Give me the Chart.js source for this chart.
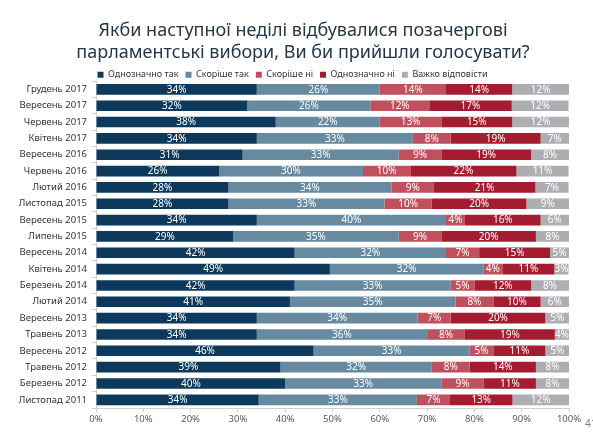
<!DOCTYPE html>
<html>
<head>
<meta charset="utf-8">
<script src="https://cdn.jsdelivr.net/npm/chart.js@4"></script>
<style>
  html, body { margin: 0; padding: 0; background: #fff; }
  #wrap { width: 593px; height: 438px; position: relative; }
</style>
</head>
<body>
<div id="wrap"><canvas id="chart" width="593" height="438"></canvas></div>
<script>
const categories = [
    'Грудень 2017', 'Вересень 2017', 'Червень 2017', 'Квітень 2017',
    'Вересень 2016', 'Червень 2016', 'Лютий 2016', 'Листопад 2015',
    'Вересень 2015', 'Липень 2015', 'Вересень 2014', 'Квітень 2014',
    'Березень 2014', 'Лютий 2014', 'Вересень 2013', 'Травень 2013',
    'Вересень 2012', 'Травень 2012', 'Березень 2012', 'Листопад 2011'
];
// shares in % (labels are the rounded values)
const definitelyYes = [34, 32, 38, 34, 31, 26, 28, 28, 34, 29, 42, 49.45, 42, 41, 34, 34, 46, 39, 40, 34.4];
const ratherYes     = [26, 26, 22, 33, 33, 30.45, 34.45, 33, 40, 35, 32, 32.45, 33, 35, 34, 36, 33, 32, 33, 33.45];
const ratherNo      = [14, 12.45, 13,  8,  9, 10,  9, 10,  4,  9,  7,  4,  5,  8,  7,  8,  5,  8,  9,  7];
const definitelyNo  = [14, 17.45, 15, 19, 19, 22.45, 21.45, 20, 16, 20, 15, 11, 12, 10, 20, 19, 11, 14, 11, 13.2];
const hardToSay     = [12, 12, 12,  7,  8, 11,  7,  9,  6,  8,  5,  3,  8,  6,  5,  4,  5,  8,  8, 12];
const xTicks = [0, 10, 20, 30, 40, 50, 60, 70, 80, 90, 100];

const FONT = '"Noto Sans", "Open Sans", sans-serif';

// white percentage labels in the middle of each segment, plus small layout tweaks
const segmentLabels = {
    id: 'segmentLabels',
    afterInit(chart) {
        // the legend in the original sits tight above the bars
        const lg = chart.legend;
        const fit = lg.fit.bind(lg);
        lg.fit = function () { fit(); this.height -= 8; };
    },
    afterLayout(chart) {
        // title is centred a bit right of the canvas middle
        chart.titleBlock.left = 37;
        chart.legend.left += 8;
        chart.legend.right += 8;
    },
    afterDatasetsDraw(chart) {
        const ctx = chart.ctx;
        ctx.save();
        ctx.font = '10px ' + FONT;
        ctx.fillStyle = '#ffffff';
        ctx.textAlign = 'center';
        ctx.textBaseline = 'middle';
        chart.data.datasets.forEach((ds, i) => {
            const meta = chart.getDatasetMeta(i);
            meta.data.forEach((bar, j) => {
                const v = ds.data[j];
                const x = (bar.base + Math.min(bar.x, chart.chartArea.right)) / 2;
                ctx.fillText(Math.round(v) + '%', x, bar.y + 0.5);
            });
        });
        // page number in the corner
        ctx.fillStyle = '#7f7f7f';
        ctx.textAlign = 'left';
        ctx.font = '10px ' + FONT;
        ctx.fillText('41', 585, 424);
        ctx.restore();
    }
};

new Chart(document.getElementById('chart'), {
    type: 'bar',
    data: {
        labels: categories,
        datasets: [
            { label: 'Однозначно так', data: definitelyYes, backgroundColor: '#0d3a5c' },
            { label: 'Скоріше так', data: ratherYes, backgroundColor: '#678aa0' },
            { label: 'Скоріше ні', data: ratherNo, backgroundColor: '#c0505e' },
            { label: 'Однозначно ні', data: definitelyNo, backgroundColor: '#a31c30' },
            { label: 'Важко відповісти', data: hardToSay, backgroundColor: '#aeadb2' },
        ],
    },
    options: {
        indexAxis: 'y',
        responsive: false,
        animation: false,
        layout: { padding: { left: 0, right: 24, top: 0, bottom: 8 } },
        datasets: {
            bar: { categoryPercentage: 1, barPercentage: 0.65, borderWidth: 0 },
        },
        plugins: {
            title: {
                display: true,
                text: ['Якби наступної неділі відбувалися позачергові', 'парламентські вибори, Ви би прийшли голосувати?'],
                color: '#253746',
                font: { family: FONT, size: 18, weight: 'normal', lineHeight: 1.2 },
                padding: { top: 20, bottom: 0 },
            },
            legend: {
                display: true,
                position: 'top',
                labels: {
                    boxWidth: 6,
                    boxHeight: 6,
                    padding: 7,
                    color: '#333333',
                    font: { family: FONT, size: 9 },
                },
            },
            tooltip: { enabled: false },
        },
        scales: {
            x: {
                stacked: true,
                min: 0,
                max: 100,
                afterBuildTicks(scale) {
                    scale.ticks = xTicks.map(v => ({ value: v }));
                },
                afterFit(scale) { scale.height = 22; },
                ticks: {
                    callback: (v) => v + '%',
                    color: '#595959',
                    font: { family: FONT, size: 9.5 },
                    padding: 2,
                    maxRotation: 0,
                },
                grid: { drawOnChartArea: false, drawTicks: true, tickLength: 4, color: '#d0d0d0' },
                border: { color: '#d0d0d0' },
            },
            y: {
                stacked: true,
                afterFit(scale) { scale.width = 96; },
                ticks: {
                    color: '#333333',
                    font: { family: FONT, size: 9.5 },
                    padding: 5,
                    autoSkip: false,
                },
                grid: { drawOnChartArea: false, drawTicks: true, tickLength: 4, color: '#d0d0d0' },
                border: { color: '#d0d0d0' },
            },
        },
    },
    plugins: [segmentLabels],
});
</script>
</body>
</html>
